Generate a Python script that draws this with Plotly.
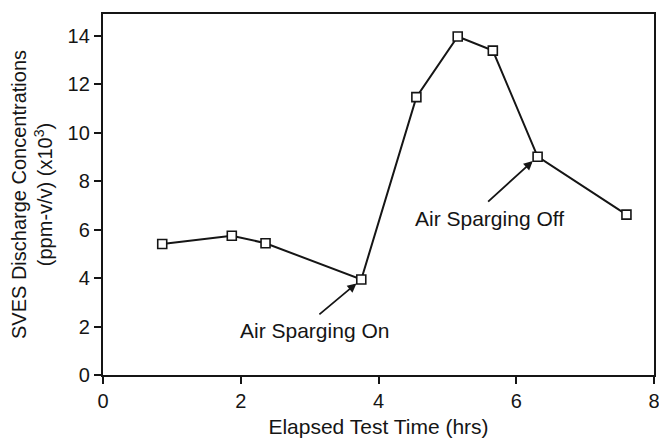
import plotly.graph_objects as go

time_hrs = [0.86, 1.87, 2.36, 3.75, 4.55, 5.15, 5.66, 6.31, 7.60]
conc_x1000 = [5.41, 5.75, 5.44, 3.94, 11.47, 13.97, 13.39, 9.01, 6.62]

x_ticks = [0, 2, 4, 6, 8]
y_ticks = [0, 2, 4, 6, 8, 10, 12, 14]

ink = "#151515"
font = "Liberation Sans, Arial, Helvetica, sans-serif"

fig = go.Figure()
fig.add_trace(go.Scatter(
    x=time_hrs, y=conc_x1000, mode="lines+markers",
    line=dict(color=ink, width=2),
    marker=dict(symbol="square", size=9, color="white", line=dict(color=ink, width=1.6)),
    showlegend=False, cliponaxis=False,
))

# annotation labels with arrows
ann = [
    dict(text="Air Sparging On", tx=3.07, ty=1.83, ax=3.12, ay=2.45, hx=3.68, hy=3.78),
    dict(text="Air Sparging Off", tx=5.61, ty=6.46, ax=5.57, ay=7.1, hx=6.24, hy=8.83),
]
for a in ann:
    fig.add_annotation(x=a["tx"], y=a["ty"], text=a["text"], showarrow=False,
                       font=dict(family=font, size=21, color=ink), xref="x", yref="y")
    fig.add_annotation(x=a["hx"], y=a["hy"], ax=a["ax"], ay=a["ay"], xref="x", yref="y",
                       axref="x", ayref="y", text="", showarrow=True, arrowhead=2,
                       arrowsize=1, arrowwidth=1.8, arrowcolor=ink)

fig.update_xaxes(range=[0, 8], tickvals=x_ticks, ticks="outside", ticklen=7, tickwidth=2,
                 tickcolor=ink, showline=True, linewidth=2.4, linecolor=ink, mirror=True,
                 showgrid=False, zeroline=False,
                 tickfont=dict(family=font, size=20, color=ink),
                 title=dict(text="Elapsed Test Time (hrs)", font=dict(family=font, size=21, color=ink),
                            standoff=8))
fig.update_yaxes(range=[0, 14.9], tickvals=y_ticks, ticks="outside", ticklen=7, tickwidth=2,
                 tickcolor=ink, showline=True, linewidth=2.4, linecolor=ink, mirror=True,
                 showgrid=False, zeroline=False,
                 tickfont=dict(family=font, size=20, color=ink),
                 title=dict(text="SVES Discharge Concentrations<br>(ppm-v/v) (x10<sup>3</sup>)",
                            font=dict(family=font, size=20, color=ink), standoff=16))

# page body adds an 8px offset, so the figure is sized to fit the 667x439 window
fig.update_layout(width=659, height=431, plot_bgcolor="white", paper_bgcolor="white",
                  margin=dict(l=90, r=13, t=4, b=57))
fig.write_html("out.html")
